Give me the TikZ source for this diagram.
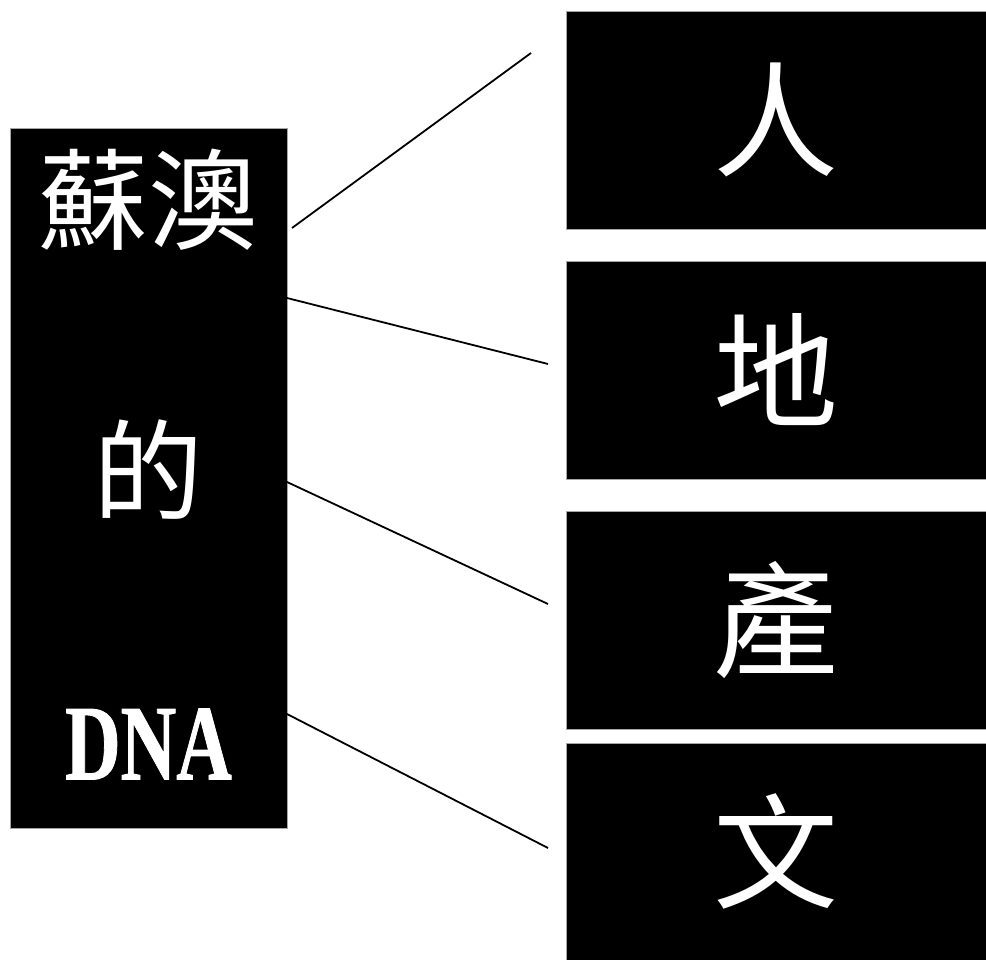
\documentclass[tikz,border=0pt]{standalone}
\usepackage{fontspec}
\newfontfamily\cjk{Noto Sans CJK TC}
\newfontfamily\dnafont[FakeBold=1]{Liberation Serif Bold}
\usetikzlibrary{positioning}

\tikzset{
  blackbox/.style={rectangle, fill=black, draw=black!35, line width=0.8pt, inner sep=0pt, text=white},
  bigchar/.style={text=white, font=\cjk\fontsize{125}{125}\selectfont},
  leftchar/.style={text=white, font=\cjk\fontsize{110}{110}\selectfont},
}

\begin{document}
\begin{tikzpicture}[x=1pt, y=-1pt]
\useasboundingbox (0,0) rectangle (986,960);

% left box
\node[blackbox, minimum width=277pt, minimum height=700pt](dna) at (148.5,478) {};
\node[leftchar](suao) at (148.5,200) {蘇澳};
\node[leftchar](de) at (148.5,470) {的};
\node[text=white, font=\dnafont\fontsize{107}{107}\selectfont](abc) at (148.5,744) {\scalebox{0.72}[1]{DNA}};

% right boxes
\node[blackbox, minimum width=420pt, minimum height=218pt](ren) at (776,120) {};
\node[blackbox, minimum width=420pt, minimum height=218pt](di) at (776,370) {};
\node[blackbox, minimum width=420pt, minimum height=218pt](chan) at (776,620) {};
\node[blackbox, minimum width=420pt, minimum height=217pt](wen) at (776,851.5) {};

\node[bigchar] at (ren) {人};
\node[bigchar] at (di) {地};
\node[bigchar] at (chan) {產};
\node[bigchar] at (wen) {文};

% connectors
\coordinate (a1) at (292,228);
\coordinate (b1) at (531,53);
\coordinate (a2) at (287,298);
\coordinate (b2) at (548,364);
\coordinate (a3) at (287,482);
\coordinate (b3) at (548,604);
\coordinate (a4) at (287,714);
\coordinate (b4) at (548,848);

\draw[line width=1.8pt] (a1) -- (b1);
\draw[line width=1.8pt] (a2) -- (b2);
\draw[line width=1.8pt] (a3) -- (b3);
\draw[line width=1.8pt] (a4) -- (b4);
\end{tikzpicture}
\end{document}
